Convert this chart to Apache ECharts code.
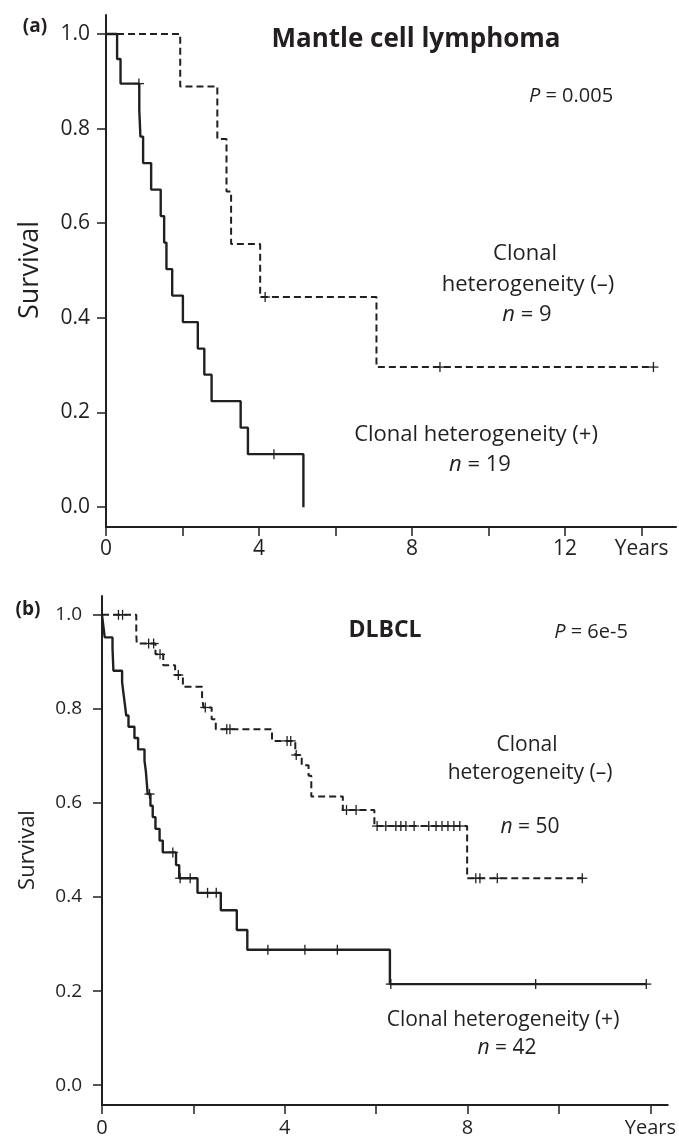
<!DOCTYPE html>
<html>
<head>
<meta charset="utf-8">
<script src="https://cdn.jsdelivr.net/npm/echarts@6/dist/echarts.min.js"></script>
<style>
  html, body { margin: 0; padding: 0; background: #fff; }
  #chart { width: 679px; height: 1141px; }
</style>
</head>
<body>
<div id="chart"></div>
<script>
// (a) Mantle cell lymphoma, clonal heterogeneity (+), n = 19
const mclPosTimes = [0.29, 0.38, 0.87, 0.90, 0.97, 1.18, 1.43, 1.52, 1.58, 1.73, 2.01, 2.40, 2.57, 2.76, 3.52, 3.71, 5.16];
const mclPosSurv = [0.947, 0.895, 0.839, 0.783, 0.727, 0.671, 0.615, 0.559, 0.503, 0.447, 0.391, 0.335, 0.280, 0.224, 0.168, 0.112, 0];
const mclPosCensorTimes = [0.86, 4.39];
const mclPosCensorSurv = [0.895, 0.112];

// (a) Mantle cell lymphoma, clonal heterogeneity (-), n = 9
const mclNegTimes = [1.94, 2.91, 3.15, 3.27, 4.03, 7.07];
const mclNegSurv = [0.889, 0.778, 0.667, 0.556, 0.444, 0.296];
const mclNegCensorTimes = [4.16, 8.73, 14.31];
const mclNegCensorSurv = [0.444, 0.296, 0.296];

// (b) DLBCL, clonal heterogeneity (+), n = 42
const dlPosTimes = [0.03, 0.06, 0.23, 0.24, 0.25, 0.44, 0.47, 0.50, 0.53, 0.58, 0.71, 0.79, 0.93, 0.96, 0.98, 1.00,
  1.06, 1.11, 1.17, 1.26, 1.33, 1.62, 1.69, 2.09, 2.60, 2.95, 3.18, 6.30];
const dlPosSurv = [0.976, 0.952, 0.929, 0.905, 0.881, 0.857, 0.833, 0.810, 0.786, 0.762, 0.738, 0.714, 0.690, 0.667, 0.643, 0.619,
  0.594, 0.570, 0.545, 0.520, 0.495, 0.468, 0.440, 0.409, 0.372, 0.330, 0.288, 0.215];
const dlPosCensorTimes = [1.04, 1.55, 1.71, 1.93, 2.31, 2.50, 3.63, 4.44, 5.15, 6.32, 9.49, 11.91];
const dlPosCensorSurv = [0.619, 0.495, 0.440, 0.440, 0.409, 0.409, 0.288, 0.288, 0.288, 0.215, 0.215, 0.215];

// (b) DLBCL, clonal heterogeneity (-), n = 50
const dlNegTimes = [0.75, 0.76, 1.17, 1.34, 1.60, 1.77, 2.19, 2.22, 2.40, 2.49, 3.72, 4.23, 4.37, 4.52, 4.58, 5.27, 5.96, 7.99];
const dlNegSurv = [0.959, 0.939, 0.916, 0.893, 0.872, 0.847, 0.825, 0.803, 0.778, 0.757, 0.732, 0.702, 0.680, 0.658, 0.614, 0.585, 0.551, 0.440];
const dlNegCensorTimes = [0.36, 0.45, 1.02, 1.13, 1.27, 1.67, 2.26, 2.73, 2.80, 4.05, 4.13, 4.25, 5.35, 5.56,
  6.02, 6.21, 6.43, 6.54, 6.65, 6.83, 7.15, 7.31, 7.44, 7.57, 7.70, 7.83, 8.18, 8.27, 8.65, 10.51];
const dlNegCensorSurv = [1, 1, 0.939, 0.939, 0.916, 0.872, 0.803, 0.757, 0.757, 0.732, 0.732, 0.702, 0.585, 0.585,
  0.551, 0.551, 0.551, 0.551, 0.551, 0.551, 0.551, 0.551, 0.551, 0.551, 0.551, 0.551, 0.440, 0.440, 0.440, 0.440];

// axis ticks
const yTicks = [0, 0.2, 0.4, 0.6, 0.8, 1.0];
const xTicksA = [0, 2, 4, 6, 8, 10, 12, 14];
const xLabelsA = [0, 4, 8, 12, 14];
const xTicksB = [0, 2, 4, 6, 8, 10, 12];
const xLabelsB = [0, 4, 8, 12];

const INK = '#231f20';
const FONT = '"Open Sans", "Noto Sans", sans-serif';

function stepData(times, surv, censorTimes) {
  const data = [[0, 1]];
  times.forEach((t, i) => data.push([t, surv[i]]));
  const last = surv[surv.length - 1];
  const endT = Math.max(times[times.length - 1], censorTimes[censorTimes.length - 1]);
  data.push([endT, last]);
  return data;
}

function censorData(times, surv) {
  return times.map((t, i) => [t, surv[i]]);
}

function curve(idx, times, surv, censorTimes, dashed) {
  return {
    type: 'line',
    xAxisIndex: idx,
    yAxisIndex: idx,
    data: stepData(times, surv, censorTimes),
    step: 'end',
    symbol: 'none',
    lineStyle: { color: INK, width: dashed ? 2 : 2.4, type: dashed ? [7, 4] : 'solid' },
    animation: false,
    z: 3
  };
}

function censors(idx, times, surv) {
  return {
    type: 'custom',
    xAxisIndex: idx,
    yAxisIndex: idx,
    data: censorData(times, surv),
    animation: false,
    z: 4,
    renderItem(params, api) {
      const p = api.coord([api.value(0), api.value(1)]);
      const style = { stroke: INK, lineWidth: 1.3 };
      return {
        type: 'group',
        children: [
          { type: 'line', shape: { x1: p[0] - 5, y1: p[1], x2: p[0] + 5, y2: p[1] }, style },
          { type: 'line', shape: { x1: p[0], y1: p[1] - 5, x2: p[0], y2: p[1] + 5 }, style }
        ]
      };
    }
  };
}

function xAxis(idx, max, ticks, labels, fontSize, margin) {
  return {
    type: 'value',
    gridIndex: idx,
    min: 0,
    max: max,
    axisLine: { show: true, onZero: false, lineStyle: { color: INK, width: 2 } },
    axisTick: { show: true, length: 9, customValues: ticks, lineStyle: { color: INK, width: 1.5 } },
    axisLabel: {
      customValues: labels,
      color: INK,
      fontSize: fontSize,
      fontFamily: FONT,
      margin: margin,
      formatter: v => (v === labels[labels.length - 1] && idx === 0) || (v === 12 && idx === 1) ? 'Years' : String(v)
    },
    splitLine: { show: false }
  };
}

function yAxis(idx, fontSize, margin) {
  return {
    type: 'value',
    gridIndex: idx,
    min: -0.042,
    max: 1.04,
    axisLine: { show: true, onZero: false, lineStyle: { color: INK, width: 2 } },
    axisTick: { show: true, length: 9, customValues: yTicks, lineStyle: { color: INK, width: 1.5 } },
    axisLabel: {
      customValues: yTicks,
      color: INK,
      fontSize: fontSize,
      fontFamily: FONT,
      margin: margin,
      formatter: v => v.toFixed(1)
    },
    splitLine: { show: false }
  };
}

function label(x, y, text, size, opts) {
  return {
    type: 'text',
    x: x,
    y: y,
    rotation: (opts && opts.rotation) || 0,
    style: {
      text: text,
      fill: INK,
      fontFamily: FONT,
      fontSize: size,
      fontWeight: (opts && opts.bold) ? 'bold' : 'normal',
      align: 'center',
      verticalAlign: 'middle',
      rich: (opts && opts.rich) || undefined
    }
  };
}

function italicRich(size) {
  return {
    i: { fontStyle: 'italic', fontSize: size, fontFamily: FONT, fill: INK },
    r: { fontSize: size, fontFamily: FONT, fill: INK }
  };
}

const chart = echarts.init(document.getElementById('chart'));

chart.setOption({
  backgroundColor: '#fff',
  animation: false,
  grid: [
    { left: 106, top: 15, right: 3, bottom: 614 },
    { left: 102, top: 596, right: 11, bottom: 36 }
  ],
  xAxis: [
    xAxis(0, 14.9, xTicksA, xLabelsA, 21, 12),
    xAxis(1, 12.38, xTicksB, xLabelsB, 20, 13)
  ],
  yAxis: [
    yAxis(0, 21, 16),
    yAxis(1, 19, 20)
  ],
  series: [
    curve(0, mclNegTimes, mclNegSurv, mclNegCensorTimes, true),
    curve(0, mclPosTimes, mclPosSurv, mclPosCensorTimes, false),
    censors(0, mclNegCensorTimes, mclNegCensorSurv),
    censors(0, mclPosCensorTimes, mclPosCensorSurv),
    curve(1, dlNegTimes, dlNegSurv, dlNegCensorTimes, true),
    curve(1, dlPosTimes, dlPosSurv, dlPosCensorTimes, false),
    censors(1, dlNegCensorTimes, dlNegCensorSurv),
    censors(1, dlPosCensorTimes, dlPosCensorSurv)
  ],
  graphic: [
    label(35, 27, '(a)', 19, { bold: true }),
    label(416, 40, 'Mantle cell lymphoma', 26, { bold: true }),
    label(571, 96, '{i|P}{r| = 0.005}', 20, { rich: italicRich(20) }),
    label(525, 254, 'Clonal', 22),
    label(528, 285, 'heterogeneity (–)', 22),
    label(527, 315, '{i|n}{r| = 9}', 22, { rich: italicRich(22) }),
    label(476, 435, 'Clonal heterogeneity (+)', 22),
    label(480, 465, '{i|n}{r| = 19}', 22, { rich: italicRich(22) }),
    label(30, 270, 'Survival', 27, { rotation: Math.PI / 2 }),

    label(28, 610, '(b)', 19, { bold: true }),
    label(385, 630, 'DLBCL', 23, { bold: true }),
    label(591, 632, '{i|P}{r| = 6e-5}', 20, { rich: italicRich(20) }),
    label(527, 745, 'Clonal', 21),
    label(530, 773, 'heterogeneity (–)', 21),
    label(530, 827, '{i|n}{r| = 50}', 21, { rich: italicRich(21) }),
    label(503, 1020, 'Clonal heterogeneity (+)', 21),
    label(507, 1048, '{i|n}{r| = 42}', 21, { rich: italicRich(21) }),
    label(28, 850, 'Survival', 22, { rotation: Math.PI / 2 })
  ]
});
</script>
</body>
</html>
